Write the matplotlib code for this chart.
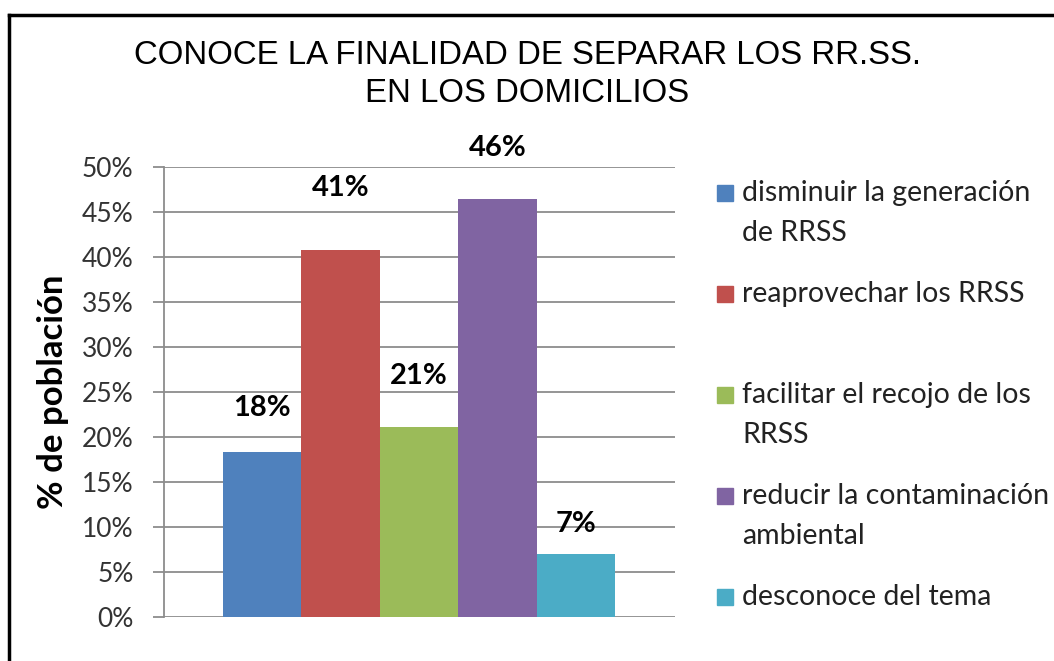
import matplotlib
matplotlib.use("Agg")
import matplotlib.pyplot as plt
from matplotlib.lines import Line2D
from matplotlib.patches import Rectangle

categories = ["disminuir la generación\nde RRSS",
              "reaprovechar los RRSS",
              "facilitar el recojo de los\nRRSS",
              "reducir la contaminación\nambiental",
              "desconoce del tema"]
values = [18.3, 40.8, 21.1, 46.5, 7.0]
labels = ["18%", "41%", "21%", "46%", "7%"]
colors = ["#4F81BD", "#C0504D", "#9BBB59", "#8064A2", "#4BACC6"]
yticks = [0, 5, 10, 15, 20, 25, 30, 35, 40, 45, 50]

# label gap above each bar top, in pixels (labels were nudged by hand in the original)
label_gap_px = [44, 62, 51, 50, 30]

W, H = 1054, 661
fig = plt.figure(figsize=(W / 100, H / 100), dpi=100)
ax = fig.add_axes([164 / W, 44 / H, 511 / W, 450 / H])

xs = list(range(len(values)))
ax.bar(xs, values, width=1.0, color=colors, zorder=3)
for x, v, lab, gap in zip(xs, values, labels, label_gap_px):
    ax.annotate(lab, (x, v), xytext=(0, gap * 0.72), textcoords="offset points",
                ha="center", va="center", fontsize=21, fontweight="bold",
                family="Lato", color="#000000", zorder=4)

ax.set_xlim(-1.253, 5.265)
ax.set_ylim(0, 50)
ax.set_yticks(yticks)
ax.set_yticklabels([f"{t}%" for t in yticks], family="Lato", fontsize=19, color="#333333")
ax.set_xticks([])
ax.grid(axis="y", color="#8C8C8C", linewidth=1.3, zorder=0)
for s in ["top", "right", "bottom"]:
    ax.spines[s].set_visible(False)
ax.spines["left"].set_color("#8C8C8C")
ax.spines["left"].set_linewidth(1.3)
ax.tick_params(axis="y", length=8, width=1.3, color="#8C8C8C", pad=14)
ax.set_ylabel("% de población", family="Lato", fontsize=25, fontweight="bold",
              labelpad=9)

fig.text(527 / W, 1 - 56 / H, "CONOCE LA FINALIDAD DE SEPARAR LOS RR.SS.",
         ha="center", va="center", family="Liberation Sans", fontsize=23.8)
fig.text(527 / W, 1 - 93 / H, "EN LOS DOMICILIOS",
         ha="center", va="center", family="Liberation Sans", fontsize=23.8)

# legend, first line of each entry evenly spaced
for i, (cat, col) in enumerate(zip(categories, colors)):
    ytop = 193 + 101 * i
    fig.patches.append(Rectangle((717 / W, 1 - (ytop + 8) / H), 16 / W, 16 / H,
                                 transform=fig.transFigure, color=col))
    for j, line in enumerate(cat.split("\n")):
        fig.text(742 / W, 1 - (ytop + 40 * j) / H, line, ha="left", va="center",
                 family="Lato", fontsize=20.5, color="#222222")

# frame lines
fig.add_artist(Line2D([9 / W, 9 / W], [0, 1 - 15 / H], color="black", linewidth=2.5))
fig.add_artist(Line2D([9 / W, 1], [1 - 15 / H, 1 - 15 / H], color="black", linewidth=2.5))

fig.savefig("out.png", dpi=100)
